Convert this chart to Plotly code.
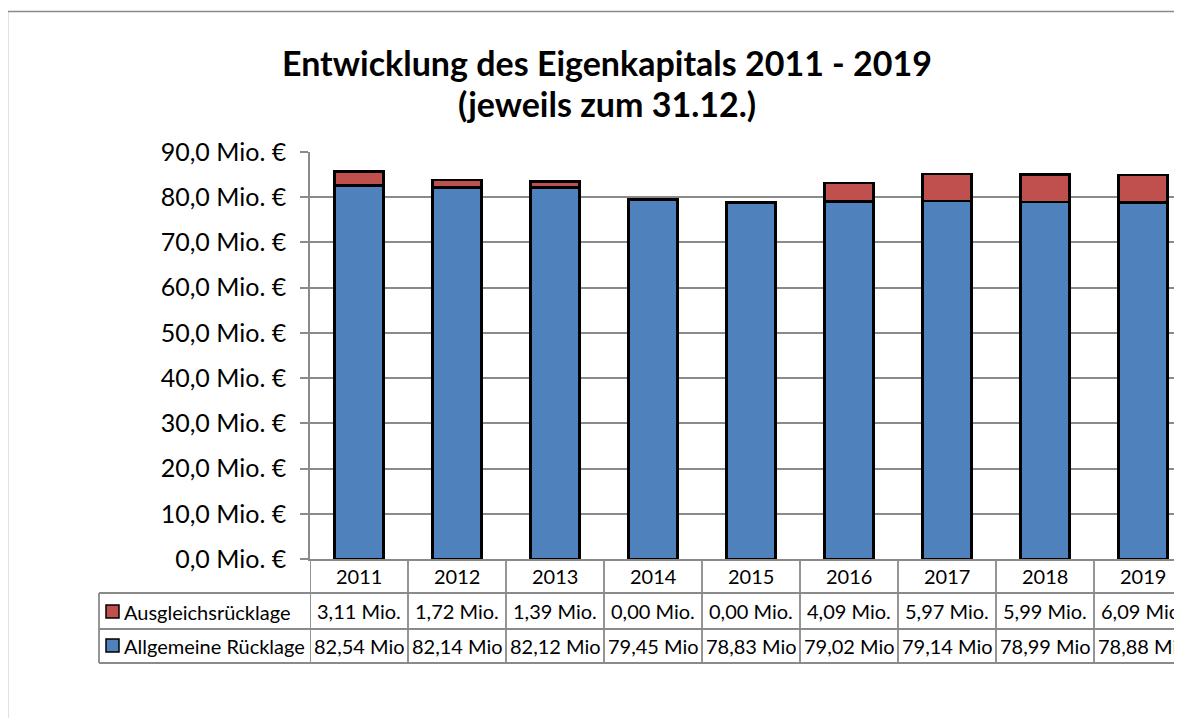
import plotly.graph_objects as go

years = ["2011", "2012", "2013", "2014", "2015", "2016", "2017", "2018", "2019"]
allgemeine = [82.54, 82.14, 82.12, 79.45, 78.83, 79.02, 79.14, 78.99, 78.88]
ausgleich = [3.11, 1.72, 1.39, 0.00, 0.00, 4.09, 5.97, 5.99, 6.09]
series_names = ["Ausgleichsrücklage", "Allgemeine Rücklage"]
ytick_vals = [0, 10, 20, 30, 40, 50, 60, 70, 80, 90]
ytick_text = [f"{v:.1f}".replace(".", ",") + " Mio. €" for v in ytick_vals]

BLUE = "#4F81BD"
RED = "#C0504D"
GRID = "#8a8a8a"
FONT = "Lato"

# page body has an 8px margin
OFF = 8
W, H = 1182 - OFF, 718 - OFF
# plot area in reference (window) pixels
L, R, T, B = 310, 1182, 152, 559
PW, PH = R - L, B - T
CAT = 98.0


def px(x):
    return (x - L) / PW


def py(y):
    return (B - y) / PH


fig = go.Figure()
fig.add_trace(go.Bar(x=list(range(len(years))), y=allgemeine, name=series_names[1],
                     marker=dict(color=BLUE, line=dict(color="black", width=2.5)), width=0.5))
fig.add_trace(go.Bar(x=list(range(len(years))), y=ausgleich, name=series_names[0],
                     marker=dict(color=RED, line=dict(color="black", width=2.5)), width=0.5))

shapes = []
annotations = []

# outer chart frame
shapes.append(dict(type="rect", xref="paper", yref="paper", x0=px(7.5), x1=px(1220), y0=py(760), y1=py(11.5),
                   line=dict(color=GRID, width=1.5), fillcolor="rgba(0,0,0,0)", layer="below"))

# title
tfont_title = dict(family=FONT, size=34, color="black")
annotations.append(dict(text="<b>Entwicklung des Eigenkapitals 2011 - 2019</b>", xref="paper", yref="paper",
                        x=px(607), y=py(62), xanchor="center", yanchor="middle", showarrow=False,
                        font=tfont_title))
annotations.append(dict(text="<b>(jeweils zum 31.12.)</b>", xref="paper", yref="paper",
                        x=px(607), y=py(104), xanchor="center", yanchor="middle", showarrow=False,
                        font=tfont_title))

# data table
tcol = GRID
tw = 1.8
for yline in [593, 629, 663]:
    shapes.append(dict(type="line", xref="paper", yref="paper", x0=px(99), x1=px(1220), y0=py(yline), y1=py(yline),
                       line=dict(color=tcol, width=tw)))
shapes.append(dict(type="line", xref="paper", yref="paper", x0=px(99), x1=px(99), y0=py(593), y1=py(663),
                   line=dict(color=tcol, width=tw)))
for i in range(len(years) + 1):
    xb = i - 0.5
    shapes.append(dict(type="line", xref="x", yref="paper", x0=xb, x1=xb, y0=py(559), y1=py(663),
                       line=dict(color=tcol, width=tw)))

tfont = dict(family=FONT, size=20, color="black")
for i, yr in enumerate(years):
    annotations.append(dict(text=yr, xref="x", yref="paper", x=i, y=py(576), showarrow=False,
                            xanchor="center", yanchor="middle", font=tfont))
    annotations.append(dict(text=f"{ausgleich[i]:.2f}".replace(".", ",") + " Mio.", xref="x", yref="paper",
                            x=i, y=py(611), showarrow=False, xanchor="center", yanchor="middle", font=tfont))
    annotations.append(dict(text=f"{allgemeine[i]:.2f}".replace(".", ",") + " Mio", xref="x", yref="paper",
                            x=i, y=py(646), showarrow=False, xanchor="center", yanchor="middle", font=tfont))

for name, col, yc in [(series_names[0], RED, 611.5), (series_names[1], BLUE, 645.5)]:
    shapes.append(dict(type="rect", xref="paper", yref="paper", x0=px(106), x1=px(119), y0=py(yc + 6.5), y1=py(yc - 6.5),
                       fillcolor=col, line=dict(color="black", width=1.5)))
    annotations.append(dict(text=name, xref="paper", yref="paper", x=px(122), y=py(yc), showarrow=False,
                            xanchor="left", yanchor="middle", font=tfont))

fig.update_layout(
    barmode="stack",
    width=W, height=H,
    margin=dict(l=L - OFF, r=(OFF + W) - R, t=T - OFF, b=(OFF + H) - B, pad=0),
    paper_bgcolor="white", plot_bgcolor="white",
    showlegend=False,
    shapes=shapes,
    annotations=annotations,
    font=dict(family=FONT, color="black"),
    xaxis=dict(range=[-0.5, -0.5 + PW / CAT], showticklabels=False, ticks="", showgrid=False,
               showline=True, linecolor=GRID, linewidth=1.8, zeroline=False, fixedrange=True),
    yaxis=dict(range=[0, 90], tickvals=ytick_vals, ticktext=ytick_text, showgrid=True, gridcolor=GRID,
               gridwidth=1.5, showline=True, linecolor=GRID, linewidth=1.5, ticks="outside", ticklen=8,
               tickcolor=GRID, tickwidth=1.5, ticklabelstandoff=9, tickfont=dict(family=FONT, size=25, color="black"),
               zeroline=False, fixedrange=True),
)

fig.write_html("out.html")
